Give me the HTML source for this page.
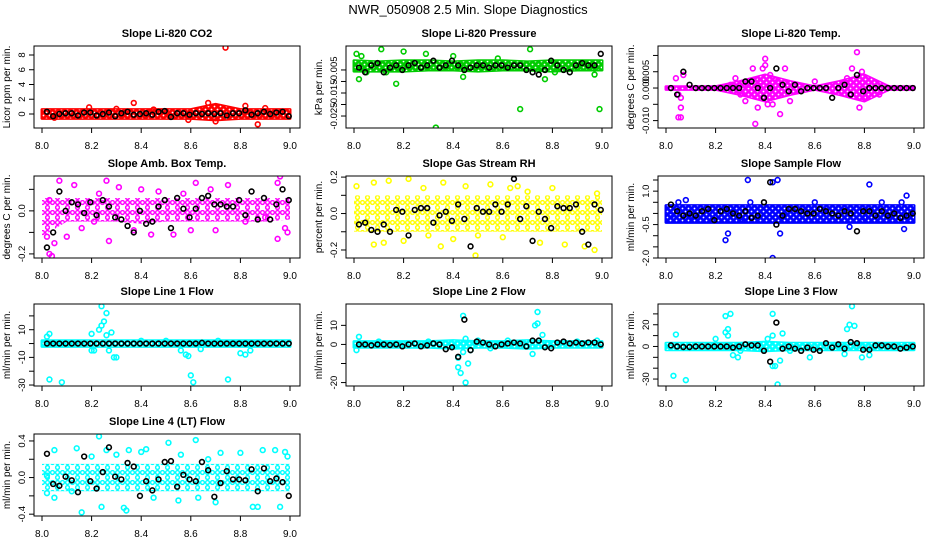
<!DOCTYPE html>
<html><head><meta charset="utf-8"><style>
html,body{margin:0;padding:0;background:#fff;width:936px;height:540px;overflow:hidden}
svg{display:block;font-family:"Liberation Sans",sans-serif}
</style></head><body>
<svg id="chart" width="936" height="540" viewBox="0 0 936 540" xmlns="http://www.w3.org/2000/svg">
<text x="468" y="14" text-anchor="middle" font-size="13">NWR_050908  2.5 Min. Slope Diagnostics</text>
</svg>
<script>
const blackX=[8.02,8.045,8.07,8.095,8.12,8.145,8.17,8.195,8.22,8.245,8.27,8.295,8.32,8.345,8.37,8.395,8.42,8.445,8.47,8.495,8.52,8.545,8.57,8.595,8.62,8.645,8.67,8.695,8.72,8.745,8.77,8.795,8.82,8.845,8.87,8.895,8.92,8.945,8.97,8.995];
const bandX=[8.0,8.1,8.2,8.3,8.4,8.5,8.6,8.7,8.8,8.9,9.0];
const xTicks=[8.0,8.2,8.4,8.6,8.8,9.0];
const xTickLabels=["8.0","8.2","8.4","8.6","8.8","9.0"];

const titles=["Slope Li-820 CO2","Slope Li-820 Pressure","Slope Li-820 Temp.","Slope Amb. Box Temp.","Slope Gas Stream RH","Slope Sample Flow","Slope Line 1 Flow","Slope Line 2 Flow","Slope Line 3 Flow","Slope Line 4 (LT) Flow"];
const yLabels=["Licor ppm per min.","kPa per min.","degrees C per min.","degrees C per min.","percent per min.","ml/min per min.","ml/min per min.","ml/min per min.","ml/min per min.","ml/min per min."];
const colors=["#ff0000","#00cc00","#ff00ff","#ff00ff","#ffff00","#0000ff","#00ffff","#00ffff","#00ffff","#00ffff"];
const yMin=[-1.9,-0.0302,-0.01227,-0.219,-0.244,-2.0,-30.7,-21.8,-36.4,-0.42];
const yMax=[9.22,0.0054,0.0129,0.162,0.206,1.68,28.6,21.2,39.1,0.476];
const yTicks=[[0,2,4,6,8],[-0.025,-0.02,-0.015,-0.01,-0.005],[-0.01,-0.005,0,0.005,0.01],[-0.2,-0.1,0,0.1],[-0.2,-0.1,0,0.1,0.2],[-2,-1.5,-1,-0.5,0,0.5,1,1.5],[-30,-20,-10,0,10,20],[-20,-10,0,10],[-30,-20,-10,0,10,20,30],[-0.4,-0.2,0,0.2,0.4]];
const yTickLabels=[["0","2","4","6","8"],["-0.025","","-0.015","","-0.005"],["-0.010","","0.000","0.005",""],["-0.2","","0.0",""],["-0.2","","0.0","","0.2"],["-2.0","","","-0.5","","","1.0",""],["-30","","-10","","10",""],["-20","","0","10"],["-30","","","0","","20",""],["-0.4","","0.0","","0.4"]];

const bandLo=[[-0.6,-0.6,-0.6,-0.6,-0.6,-0.6,-0.6,-0.8,-0.6,-0.6,-0.6],[-0.0055,-0.0055,-0.0055,-0.005,-0.005,-0.0055,-0.005,-0.005,-0.0055,-0.005,-0.005],[-0.0004,-0.0004,-0.0004,-0.002,-0.004,-0.002,-0.0004,-0.002,-0.004,-0.0004,-0.0004],[-0.12,-0.05,-0.05,-0.05,-0.06,-0.05,-0.05,-0.05,-0.05,-0.05,-0.04],[-0.1,-0.1,-0.1,-0.1,-0.1,-0.1,-0.1,-0.1,-0.1,-0.1,-0.1],[-0.4,-0.4,-0.4,-0.4,-0.4,-0.4,-0.4,-0.4,-0.4,-0.4,-0.4],[-2,-2,-2,-2,-2,-2,-2,-2,-2,-2,-2],[-1.5,-1.5,-1.5,-1.5,-2,-1.5,-1.5,-2,-1.5,-1.5,-1.5],[-3,-3,-3,-3,-4,-3,-3,-3,-3,-3,-3],[-0.15,-0.15,-0.15,-0.15,-0.15,-0.15,-0.15,-0.15,-0.15,-0.15,-0.15]];
const bandHi=[[0.6,0.6,0.6,0.6,0.6,0.6,0.6,1.3,0.6,0.6,0.6],[-0.001,-0.0015,-0.001,-0.001,-0.0015,-0.001,-0.001,-0.0015,-0.001,-0.001,-0.001],[0.0004,0.0004,0.0004,0.002,0.004,0.002,0.0004,0.002,0.004,0.0004,0.0004],[0.06,0.06,0.06,0.06,0.06,0.06,0.06,0.06,0.06,0.06,0.06],[0.1,0.1,0.1,0.1,0.1,0.1,0.1,0.1,0.1,0.1,0.1],[0.35,0.35,0.35,0.35,0.35,0.35,0.35,0.35,0.35,0.35,0.35],[2,2,2,2,2,2,2,2,2,2,2],[1.5,1.5,1.5,1.5,2,1.5,1.5,2,1.5,1.5,1.5],[3,3,3,3,4,3,3,3,3,3,3],[0.15,0.15,0.15,0.15,0.15,0.15,0.15,0.15,0.15,0.15,0.15]];

const out0=[[8.74,9],[8.37,1.5],[8.67,1.5],[8.87,-1.4],[8.82,1.1],[8.19,0.9],[8.59,-0.8],[8.05,-0.5],[8.9,0.8],[8.7,-1],[8.3,0.7],[8.45,0.6]];
const out1=[[8.01,0.002],[8.03,0.001],[8.02,-0.009],[8.11,0.004],[8.05,-0.006],[8.17,-0.011],[8.29,0.002],[8.33,-0.03],[8.44,-0.008],[8.58,0],[8.67,-0.022],[8.71,0.004],[8.81,-0.006],[8.77,-0.009],[8.99,-0.022],[8.97,-0.007],[8.2,0.003],[8.4,0.001],[8.62,-0.004],[8.9,-0.004],[8.13,-0.006],[8.75,-0.004]];
const out2=[[8.04,0.003],[8.05,-0.002],[8.06,-0.006],[8.05,-0.009],[8.06,-0.009],[8.07,0.004],[8.06,-0.003],[8.28,0.003],[8.3,-0.002],[8.33,0.001],[8.35,0.006],[8.36,-0.011],[8.38,0.002],[8.39,0.006],[8.4,0.009],[8.4,0.007],[8.41,-0.005],[8.43,-0.005],[8.45,0.002],[8.46,-0.008],[8.48,0.006],[8.5,-0.004],[8.32,-0.004],[8.42,0.004],[8.37,-0.006],[8.73,0.003],[8.75,0.006],[8.77,0.011],[8.78,-0.006],[8.79,0.005],[8.8,-0.003],[8.74,-0.002],[8.86,-0.002],[8.72,0.001],[8.6,0.002],[8.26,0.001]];
const out3=[[8.02,-0.12],[8.03,-0.2],[8.04,-0.21],[8.05,-0.15],[8.03,0.05],[8.07,0.14],[8.1,-0.12],[8.16,-0.08],[8.21,-0.05],[8.26,0.14],[8.27,-0.14],[8.31,0.11],[8.37,-0.09],[8.44,-0.11],[8.53,-0.11],[8.57,0.08],[8.6,-0.09],[8.62,0.13],[8.7,-0.09],[8.75,0.12],[8.82,-0.05],[8.9,-0.03],[8.95,0.13],[8.95,-0.13],[8.96,0.16],[8.98,-0.08],[8.99,-0.1],[8.13,0.12],[8.47,0.09],[8.68,0.1],[8.4,0.1],[8.23,0.08]];
const out4=[[8.01,0.15],[8.08,0.17],[8.14,0.18],[8.22,0.19],[8.36,0.17],[8.08,-0.17],[8.12,-0.16],[8.2,-0.15],[8.3,-0.12],[8.35,-0.18],[8.45,0.15],[8.5,-0.12],[8.55,0.16],[8.6,-0.13],[8.49,-0.23],[8.63,0.14],[8.7,0.12],[8.8,0.14],[8.85,-0.17],[8.93,-0.18],[8.97,-0.2],[8.98,0.11],[8.28,0.14],[8.4,-0.14],[8.75,-0.16],[8.66,0.15]];
const out5=[[8.02,-0.1],[8.05,0.5],[8.08,0.6],[8.25,-0.9],[8.24,-1.2],[8.33,1.5],[8.34,0.5],[8.42,1.9],[8.44,1.9],[8.43,1.4],[8.45,1.5],[8.43,-2],[8.46,-0.9],[8.55,-0.3],[8.67,-0.3],[8.74,-0.6],[8.82,1.3],[8.87,0.5],[8.95,0.5],[8.97,0.8],[8.96,-0.7],[8.1,-0.1],[8.3,-0.3],[8.6,0.5],[8.8,-0.2]];
const out6=[[8.02,5],[8.03,7],[8.03,-26],[8.08,-28],[8.2,-5],[8.2,7],[8.21,-5],[8.23,10],[8.24,13],[8.24,27],[8.26,22],[8.25,16],[8.26,6],[8.27,-5],[8.28,8],[8.29,-10],[8.3,-10],[8.56,-5],[8.58,-8],[8.59,-9],[8.6,-23],[8.61,-28],[8.75,-26],[8.64,-4],[8.8,-7],[8.82,-8],[8.84,-5],[8.71,2],[8.5,2],[8.4,2]];
const out7=[[8.01,-3],[8.02,4],[8.42,-7],[8.42,-12],[8.43,-15],[8.44,15],[8.45,-20],[8.46,-10],[8.45,3],[8.44,-4],[8.47,-3],[8.72,-5],[8.73,10],[8.74,11],[8.74,17],[8.76,5],[8.5,2],[8.55,-2],[8.62,2],[8.68,1],[8.9,1.5],[8.98,2],[8.1,1.5],[8.3,1.5]];
const out8=[[8.03,-27],[8.04,11],[8.08,-31],[8.2,7],[8.24,28],[8.24,13],[8.25,16],[8.26,30],[8.27,-8],[8.29,-10],[8.25,10],[8.41,7],[8.43,30],[8.43,-18],[8.44,-18],[8.45,-35],[8.46,-13],[8.47,12],[8.43,10],[8.58,-10],[8.72,-7],[8.73,16],[8.74,20],[8.75,37],[8.76,19],[8.79,-10],[8.82,-8],[8.3,-4],[8.5,-4]];
const out9=[[8.02,0.02],[8.05,0.3],[8.05,-0.22],[8.14,0.32],[8.16,-0.38],[8.2,0.23],[8.23,0.45],[8.24,-0.32],[8.26,0.3],[8.3,0.25],[8.33,-0.33],[8.34,-0.36],[8.35,0.3],[8.4,0.28],[8.42,0.31],[8.51,0.38],[8.56,0.25],[8.62,0.41],[8.63,-0.22],[8.7,-0.27],[8.72,0.27],[8.8,0.27],[8.85,-0.32],[8.87,-0.32],[8.89,0.3],[8.94,0.3],[8.96,-0.32],[8.98,0.28],[8.99,0.23],[8.45,-0.22],[8.55,-0.25],[8.12,-0.15],[8.67,0.2],[8.02,-0.17]];
const outliers=[out0,out1,out2,out3,out4,out5,out6,out7,out8,out9];

const blk0=[0.3,-0.3,0,0.1,0.1,-0.2,0.2,0.2,-0.2,0,0.2,-0.3,0.1,0.3,-0.1,0,0.1,-0.1,0.3,0.4,-0.4,0.1,0.1,-0.1,0.1,0,0.1,0,0.1,-0.2,0.1,0.1,0.5,-0.1,0.1,0.3,0,0.2,0.3,-0.3];
const blk1=[-0.004,-0.006,-0.003,-0.002,-0.006,-0.004,-0.003,-0.005,-0.003,-0.002,-0.004,-0.003,-0.001,-0.004,-0.003,-0.001,-0.003,-0.005,-0.004,-0.003,-0.003,-0.004,-0.003,-0.003,-0.004,-0.003,-0.003,-0.005,-0.006,-0.007,-0.005,-0.001,-0.003,-0.005,-0.006,-0.003,-0.002,-0.003,-0.003,0.002];
const blk2=[0,-0.002,0.005,0.001,0,0,0,0,0,0,0,0,0.002,0.002,0,-0.003,0,0.006,0.001,-0.001,0.001,-0.001,0,0,0,0,-0.003,0,0.001,-0.002,0.004,-0.001,0,0,0,0,0,0,0,0];
const blk3=[-0.17,-0.1,0.09,0,0.04,0.03,-0.01,0.04,-0.02,0.05,0.02,-0.03,-0.04,-0.07,-0.1,0,-0.06,-0.05,0.02,0.05,-0.08,0.06,0.01,-0.03,0.01,0.06,0.07,0.03,0.03,0.02,0.02,0.05,-0.02,0.09,-0.04,0.06,-0.04,0.03,0.1,0.05];
const blk4=[-0.06,-0.05,-0.09,-0.1,-0.06,-0.1,0.02,0.01,-0.12,0.02,0.03,0.03,-0.05,-0.01,0.01,-0.04,0.05,-0.03,-0.18,0.03,0.01,0.01,0.05,0.01,0.05,0.19,-0.03,0.04,-0.15,0.01,-0.03,-0.08,0.04,0.03,0.03,0.05,-0.1,-0.17,0.05,0.02];
const blk5=[0.4,0.1,-0.1,0,-0.1,0.1,0.2,-0.3,0.1,0.2,0,-0.1,0.1,-0.2,-0.1,0.5,1.4,-0.5,-0.1,0.2,0.2,0.1,0,0,0.2,0.1,0,-0.1,0.1,0,-0.8,0.1,0.1,-0.1,0.1,-0.1,0,-0.2,-0.1,0];
const blk6=[0,0,0,0,0,0,0,0,0,0,0,0,0,0,0,0,0,0,0,0,0,0,0,0,0,0.5,0,0,0,0,0,0,0,0,0,0,0,0,0,0];
const blk7=[0,0,-0.5,0,0,-0.3,0,-1,0,0.5,-1,-0.5,0.5,0,-2.5,-1.5,-6.5,13,-3,1.5,1,0,-1,0,0.5,1,0.5,-1,2,2,-1.5,-2,1,1.5,0.5,1,0.5,1,1,0];
const blk8=[1,0,-0.5,-0.5,0,0,0,0,0,0,-1,0,2,1,1,-4,-14,22,-2,0,-2,-4,-1,-3,-4,3,-1,2,-2,4,3,-3,-3,1,1,0,0,-2,-1,0];
const blk9=[0.26,-0.07,-0.09,0.01,-0.03,-0.16,0.23,-0.04,-0.12,0.06,0.33,0.01,-0.02,0.16,0.12,-0.2,-0.04,-0.14,-0.02,0.17,0.18,-0.1,0.03,-0.02,-0.04,0.17,0.08,-0.21,-0.06,0.07,-0.02,-0.02,-0.03,0.09,-0.15,0.1,-0.04,-0.01,-0.05,-0.2];
const blacks=[blk0,blk1,blk2,blk3,blk4,blk5,blk6,blk7,blk8,blk9];

const NS="http://www.w3.org/2000/svg";
const svg=document.getElementById('chart');
const colLeft=[34,346,658], rowTop=[46,176,304,434], W=266, H=82;
const sparse=[false,false,false,true,true,false,false,false,false,true];
function mk(tag,attrs,parent){const e=document.createElementNS(NS,tag);for(const k in attrs)e.setAttribute(k,attrs[k]);parent.appendChild(e);return e;}
const defs=mk('defs',{},svg);
// white speckle pattern for dense bands
const holes=mk('pattern',{id:'holes',patternUnits:'userSpaceOnUse',width:6,height:6},defs);
mk('circle',{cx:1.5,cy:1.5,r:0.9,fill:'#fff'},holes);
mk('circle',{cx:4.5,cy:4.5,r:0.9,fill:'#fff'},holes);

for(let p=0;p<10;p++){
  const L=colLeft[p%3], T=rowTop[Math.floor(p/3)], B=T+H;
  const xs=v=>L+8+(v-8)*248;
  const ys=v=>B-(v-yMin[p])/(yMax[p]-yMin[p])*H;
  if(sparse[p]){
    const pat=mk('pattern',{id:'pat'+p,patternUnits:'userSpaceOnUse',width:10,height:10},defs);
    [[2.5,2.5],[7.5,7.5],[7.5,2.5]].forEach(c=>mk('circle',{cx:c[0],cy:c[1],r:1.9,fill:'none',stroke:colors[p],'stroke-width':1.4},pat));
  }
  const g=mk('g',{},svg);
  
  
  const t=mk('text',{x:L+W/2,y:T-9,'text-anchor':'middle','font-size':'11','font-weight':'bold'},g);
  t.textContent=titles[p];
  
  
  const cy=T+H/2, lx=L-24;
  const yl=mk('text',{x:lx,y:cy,'text-anchor':'middle','font-size':'10',transform:`rotate(-90 ${lx} ${cy})`},g);
  yl.textContent=yLabels[p];
  
  
  yTicks[p].forEach((v,i)=>{
    const y=ys(v);
    mk('line',{x1:L-5,x2:L,y1:y,y2:y,stroke:'#000','stroke-width':1},g);
    if(yTickLabels[p][i]){
      const tx=L-9;
      const tl=mk('text',{x:tx,y:y,'text-anchor':'middle','font-size':'9.5',transform:`rotate(-90 ${tx} ${y})`},g);
      tl.textContent=yTickLabels[p][i];
      
      
    }
  });
  xTicks.forEach((v,i)=>{
    const x=xs(v);
    mk('line',{x1:x,x2:x,y1:B,y2:B+5,stroke:'#000','stroke-width':1},g);
    const xl=mk('text',{x:x,y:B+21,'text-anchor':'middle','font-size':'10'},g);
    xl.textContent=xTickLabels[i];
    
    
  });
  const clip='clip'+p;
  const cp=mk('clipPath',{id:clip},g);
  mk('rect',{x:L,y:T,width:W,height:H},cp);
  const pg=mk('g',{'clip-path':`url(#${clip})`},g);
  let pts=bandX.map((v,i)=>xs(v)+','+ys(bandHi[p][i]));
  pts=pts.concat(bandX.map((v,i)=>xs(v)+','+ys(bandLo[p][i])).reverse());
  const band=mk('polygon',{points:pts.join(' '),fill:sparse[p]?`url(#pat${p})`:colors[p],stroke:sparse[p]?'none':colors[p],'stroke-width':3,'stroke-linejoin':'round'},pg);
  
  
  if(!sparse[p]){
    const h=mk('polygon',{points:pts.join(' '),fill:'url(#holes)',stroke:'none'},pg);
    
    
  }
  outliers[p].forEach(d=>{
    const c=mk('circle',{cx:xs(d[0]),cy:ys(d[1]),r:2.4,fill:'none',stroke:colors[p],'stroke-width':1.6},pg);
    
    
  });
  blacks[p].forEach((v,i)=>{
    const c=mk('circle',{cx:xs(blackX[i]),cy:ys(v),r:2.4,fill:'none',stroke:'#000','stroke-width':1.6},pg);
    
    
  });
  const box=mk('rect',{x:L,y:T,width:W,height:H,fill:'none',stroke:'#000','stroke-width':1},g);
  
  
}
</script>
</body></html>
